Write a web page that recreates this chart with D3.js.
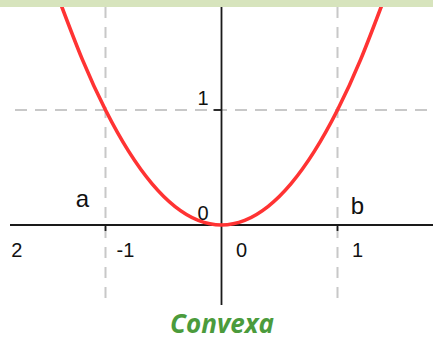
<!DOCTYPE html>
<html><head><meta charset="utf-8">
<script src="https://cdn.jsdelivr.net/npm/d3@7"></script>
<style>html,body{margin:0;padding:0;background:#fff;overflow:hidden}</style>
</head><body>
<svg id="c" width="433" height="341"></svg>
<script>
// Data (points on the convex curve)
const curveX = [-1.4, -1.2, -1.0, -0.8, -0.6, -0.4, -0.2, 0, 0.2, 0.4, 0.6, 0.8, 1.0, 1.2, 1.4];
const curveY = [1.96, 1.44, 1.0, 0.64, 0.36, 0.16, 0.04, 0, 0.04, 0.16, 0.36, 0.64, 1.0, 1.44, 1.96];
const xTicks = [-2, -1, 0, 1];
const xTickLabels = ["-2", "-1", "0", "1"];
const yTicks = [0, 1];
const yTickLabels = ["0", "1"];
const guideX = [-1, 1];
const guideY = [1];
const pointLabels = [{t: "a", x: -1}, {t: "b", x: 1}];
const title = "Convexa";

const svg = d3.select("#c");
const x = d3.scaleLinear().domain([-1, 1]).range([105.5, 337.5]);
const y = d3.scaleLinear().domain([0, 1]).range([225, 110]);

// clip so the leftmost label is cut at the frame edge as in the picture
svg.append("defs").append("clipPath").attr("id", "lab")
  .append("rect").attr("x", 11).attr("y", 0).attr("width", 422).attr("height", 341);

// dashed guides
svg.selectAll("line.gx").data(guideX).join("line")
  .attr("x1", d => x(d)).attr("x2", d => x(d))
  .attr("y1", 7).attr("y2", 300)
  .attr("stroke", "#c8c8c8").attr("stroke-width", 2).attr("stroke-dasharray", "11,9");
svg.selectAll("line.gy").data(guideY).join("line")
  .attr("x1", 15).attr("x2", 433)
  .attr("y1", d => y(d)).attr("y2", d => y(d))
  .attr("stroke", "#c8c8c8").attr("stroke-width", 2).attr("stroke-dasharray", "12,8");

// axes
svg.append("line").attr("x1", 10).attr("x2", 433).attr("y1", y(0)).attr("y2", y(0))
  .attr("stroke", "#1a1a1a").attr("stroke-width", 1.8);
svg.append("line").attr("x1", x(0)).attr("x2", x(0)).attr("y1", 7).attr("y2", 305)
  .attr("stroke", "#1a1a1a").attr("stroke-width", 1.8);
// tick marks
svg.selectAll("line.tx").data([-1, 1]).join("line")
  .attr("x1", d => x(d)).attr("x2", d => x(d)).attr("y1", y(0)).attr("y2", y(0) + 6)
  .attr("stroke", "#1a1a1a").attr("stroke-width", 1.8);
svg.append("line").attr("x1", x(0) - 8).attr("x2", x(0)).attr("y1", y(1)).attr("y2", y(1))
  .attr("stroke", "#1a1a1a").attr("stroke-width", 1.8);

// curve
const pts = curveX.map((v, i) => [v, curveY[i]]);
svg.append("path").datum(pts)
  .attr("d", d3.line().x(d => x(d[0])).y(d => y(d[1])).curve(d3.curveNatural))
  .attr("fill", "none").attr("stroke", "#ff3333").attr("stroke-width", 3.6)
  .attr("stroke-linecap", "round");

// top band
svg.append("rect").attr("x", 0).attr("y", 0).attr("width", 433).attr("height", 7).attr("fill", "#d7e4bd");

const font = "'Liberation Sans', Arial, sans-serif";
// x tick labels
svg.append("g").attr("clip-path", "url(#lab)")
  .selectAll("text").data(xTicks).join("text")
  .attr("x", d => d === -2 ? 22.5 : x(d) + 20).attr("y", 257)
  .attr("text-anchor", d => d === -2 ? "end" : "middle")
  .attr("font-family", font).attr("font-size", 20).attr("fill", "#111")
  .text((d, i) => xTickLabels[i]);
// y tick labels
svg.selectAll("text.yl").data(yTicks).join("text")
  .attr("x", x(0) - 13).attr("y", d => y(d) - 5)
  .attr("text-anchor", "end").attr("font-family", font).attr("font-size", 20).attr("fill", "#111")
  .text((d, i) => yTickLabels[i]);
// point labels a, b
svg.selectAll("text.pl").data(pointLabels).join("text")
  .attr("x", d => d.x < 0 ? x(d.x) - 23 : x(d.x) + 20)
  .attr("y", d => d.x < 0 ? 207 : 214)
  .attr("text-anchor", "middle").attr("font-family", font).attr("font-size", 24).attr("fill", "#111")
  .text(d => d.t);

// title
svg.append("text").attr("x", 222).attr("y", 333).attr("text-anchor", "middle")
  .attr("font-family", "'Open Sans', sans-serif").attr("font-weight", "bold").attr("font-style", "italic")
  .attr("font-size", 26).attr("fill", "#4b9b3c").text(title);
</script>
</body></html>
